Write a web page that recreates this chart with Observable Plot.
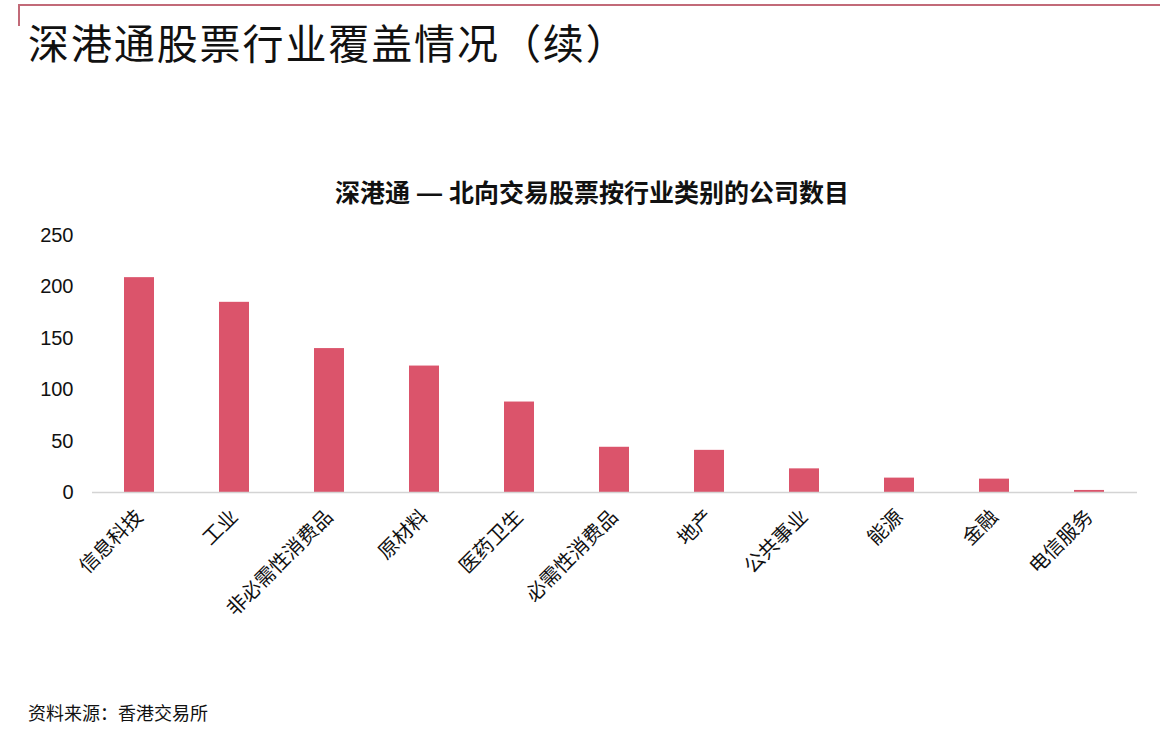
<!DOCTYPE html>
<html>
<head>
<meta charset="utf-8">
<script src="https://cdn.jsdelivr.net/npm/d3@7"></script>
<script src="https://cdn.jsdelivr.net/npm/@observablehq/plot@0.6"></script>
<style>
  html, body { margin: 0; padding: 0; background: #fff; }
  #wrap { position: relative; width: 1160px; height: 738px; overflow: hidden; background: #fff; }
  #frameTop { position: absolute; left: 18px; top: 4px; width: 1142px; height: 2px; background: #c26a78; }
  #frameLeft { position: absolute; left: 18px; top: 4px; width: 2px; height: 22px; background: #c26a78; }
  #title { position: absolute; left: 28px; top: 17px; font-family: "Noto Sans CJK SC", sans-serif; font-size: 41px; letter-spacing: 1.9px; color: #111; white-space: nowrap; line-height: 1.2; }
  #subtitle { position: absolute; left: 0; width: 1184px; top: 178px; text-align: center; font-family: "Liberation Sans", "Noto Sans CJK SC", sans-serif; font-weight: bold; font-size: 25px; color: #111; white-space: nowrap; line-height: 1.2; }
  #chart { position: absolute; left: 0; top: 220px; }
  #source { position: absolute; left: 28px; top: 702px; font-family: "Noto Sans CJK SC", sans-serif; font-size: 18px; color: #111; white-space: nowrap; line-height: 1.2; }
</style>
</head>
<body>
<div id="wrap">
  <div id="frameTop"></div>
  <div id="frameLeft"></div>
  <div id="title"></div>
  <div id="subtitle"></div>
  <div id="chart"></div>
  <div id="source"></div>
</div>
<script>
const titleText = "深港通股票行业覆盖情况（续）";
const subtitleText = "深港通 — 北向交易股票按行业类别的公司数目";
const sourceText = "资料来源：香港交易所";
const categories = ["信息科技", "工业", "非必需性消费品", "原材料", "医药卫生", "必需性消费品", "地产", "公共事业", "能源", "金融", "电信服务"];
const counts = [209, 185, 140, 123, 88, 44, 41, 23, 14, 13, 2];
const yTicks = [0, 50, 100, 150, 200, 250];

document.getElementById("title").textContent = titleText;
document.getElementById("subtitle").textContent = subtitleText;
document.getElementById("source").textContent = sourceText;

const data = categories.map((c, i) => ({category: c, count: counts[i]}));

const chart = Plot.plot({
  width: 1160,
  height: 430,
  marginTop: 15,
  marginLeft: 92,
  marginRight: 23,
  marginBottom: 158,
  style: {fontFamily: "'Liberation Sans', 'Noto Sans CJK SC', sans-serif", fontSize: "20px", color: "#111", background: "transparent"},
  x: {domain: categories, paddingInner: 0.684, paddingOuter: 0.342, label: null},
  y: {domain: [0, 250], ticks: yTicks, label: null},
  marks: [
    Plot.barY(data, {x: "category", y: "count", fill: "#db546b"}),
    Plot.ruleY([0], {stroke: "#d4d4d4", strokeWidth: 1.5}),
    Plot.axisX({tickSize: 0, tickPadding: 21, tickRotate: -45, fontSize: 20, fill: "#111", label: null}),
    Plot.axisY({ticks: yTicks, tickSize: 0, tickPadding: 19, fontSize: 20, fill: "#111", label: null})
  ]
});
document.getElementById("chart").appendChild(chart);
</script>
</body>
</html>
